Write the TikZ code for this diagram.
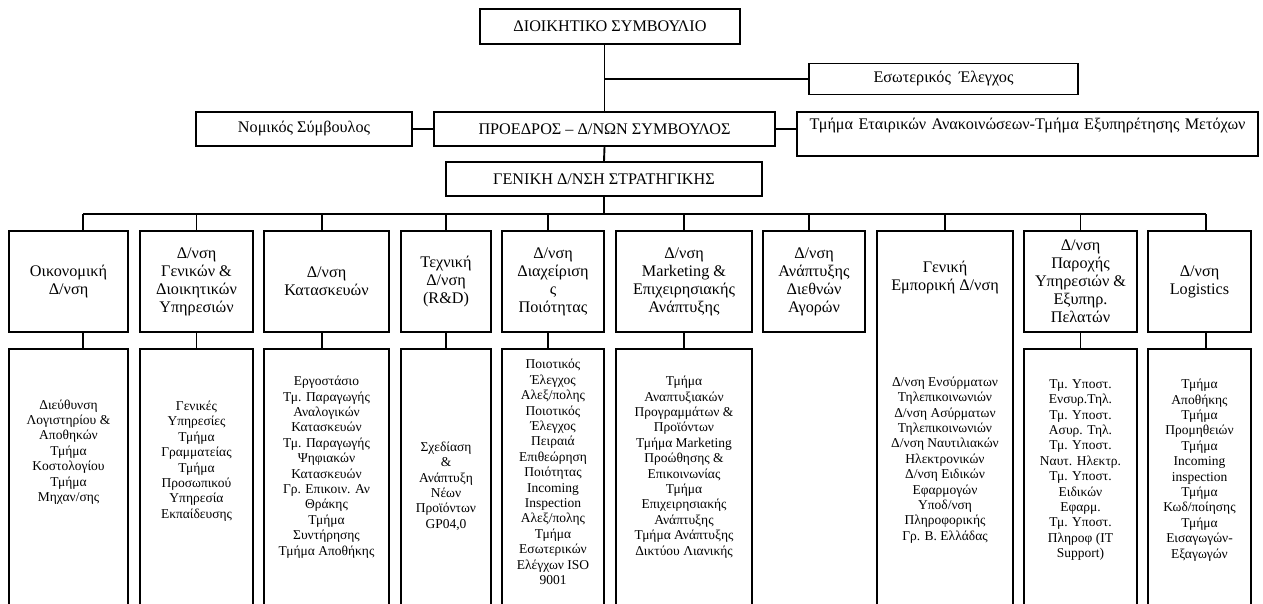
\documentclass[tikz,border=0pt]{standalone}
\usepackage{fontspec}
\setmainfont{Liberation Serif}
\usetikzlibrary{positioning,calc}

\begin{document}
\begin{tikzpicture}[x=1pt,y=-1pt,line width=1.9pt,
    unit/.style={draw,align=center,inner sep=0pt,font=\fontsize{16.2}{18}\selectfont},
    dept/.style={unit,minimum width=#1,minimum height=101pt},
    sect/.style={draw,minimum width=#1,minimum height=263pt,inner sep=0pt},
    secttxt/.style={align=center,inner sep=0pt,font=\fontsize{13.5}{15.4}\selectfont}]
    % page frame
    \useasboundingbox (0,0) rectangle (1263,603);
    \clip (0,0) rectangle (1263,603);
    % board, chairman and staff units
    \node[unit,minimum width=260pt,minimum height=35pt] (board) at (610,26.5) {ΔΙΟΙΚΗΤΙΚΟ ΣΥΜΒΟΥΛΙΟ};
    \node[unit,minimum width=269pt,minimum height=31pt] (audit) at (943.5,79) {Εσωτερικός \ Έλεγχος};
    \node[unit,minimum width=341pt,minimum height=34pt] (ceo) at (604.5,129) {ΠΡΟΕΔΡΟΣ – Δ/ΝΩΝ ΣΥΜΒΟΥΛΟΣ};
    \node[unit,minimum width=216pt,minimum height=34pt] (legal) at (304,129) {Νομικός Σύμβουλος};
    \node[unit,text width=461pt,text height=17pt,text depth=27pt] (corp) at (1027.5,134) {Τμήμα Εταιρικών Ανακοινώσεων-Τμήμα Εξυπηρέτησης Μετόχων};
    \node[unit,minimum width=316pt,minimum height=34pt] (gm) at (604,179) {ΓΕΝΙΚΗ Δ/ΝΣΗ ΣΤΡΑΤΗΓΙΚΗΣ};
    \draw (board.south -| ceo.north) -- (ceo.north);
    \draw (ceo.north |- audit.west) -- (audit.west);
    \draw (legal.east) -- (ceo.west);
    \draw (ceo.east) -- (ceo.east -| corp.west);
    \draw (ceo.south) -- (gm.north);
    % directorates
    \node[dept=119pt] (d1) at (68.5,281.5) {Οικονομική\\Δ/νση};
    \node[dept=113pt] (d2) at (196.5,281.5) {Δ/νση\\Γενικών \&\\Διοικητικών\\Υπηρεσιών};
    \node[dept=125pt] (d3) at (326.5,281.5) {Δ/νση\\Κατασκευών};
    \node[dept=90pt] (d4) at (446,281.5) {Τεχνική\\Δ/νση\\(R\&D)};
    \node[dept=102pt] (d5) at (553,281.5) {Δ/νση\\Διαχείριση\\ς\\Ποιότητας};
    \node[dept=136pt] (d6) at (684,281.5) {Δ/νση\\Marketing \&\\Επιχειρησιακής\\Ανάπτυξης};
    \node[dept=102pt] (d7) at (814,281.5) {Δ/νση\\Ανάπτυξης\\Διεθνών\\Αγορών};
    \node[draw,minimum width=136pt,minimum height=381pt] (d8) at (945,421.5) {};
    \node[unit,draw=none] (d8title) at (945,278) {Γενική\\Εμπορική Δ/νση};
    \node[dept=113pt] (d9) at (1080.5,281.5) {Δ/νση\\Παροχής\\Υπηρεσιών \&\\Εξυπηρ.\\Πελατών};
    \node[dept=103pt] (d10) at (1199.5,281.5) {Δ/νση\\Logistics};
    % bus from the general directorate
    \coordinate (bus) at ($(gm.south)+(0,17)$);
    \foreach \i/\dx in {1/14.5, 2/0, 3/-4.5, 4/0, 5/-5, 6/0, 7/-5, 8/0, 9/0, 10/6.5}{
      \coordinate (j\i) at ($(d\i.north)+(\dx,0)$);
      \draw (j\i) -- (j\i |- bus);
    }
    \draw (gm.south) -- (bus);
    \draw (j1 |- bus) -- (j10 |- bus);
    % departments below
    \foreach \i/\x/\w in {1/68.5/119, 2/196.5/113, 3/326.5/125, 4/446/90, 5/553/102, 6/684/136, 9/1080.5/113, 10/1199.5/103}{
      \node[sect=\w pt] (s\i) at (\x,480.5) {};
      \draw (j\i |- d\i.south) -- (j\i |- s\i.north);
    }
    \node[secttxt] (t1) at (68.5,452) {Διεύθυνση\\Λογιστηρίου \&\\Αποθηκών\\Τμήμα\\Κοστολογίου\\Τμήμα\\Μηχαν/σης};
    \node[secttxt] (t2) at (196.5,461) {Γενικές\\Υπηρεσίες\\Τμήμα\\Γραμματείας\\Τμήμα\\Προσωπικού\\Υπηρεσία\\Εκπαίδευσης};
    \node[secttxt] (t3) at (326.5,467) {Εργοστάσιο\\Τμ. Παραγωγής\\Αναλογικών\\Κατασκευών\\Τμ. Παραγωγής\\Ψηφιακών\\Κατασκευών\\Γρ. Επικοιν. Αν\\Θράκης\\Τμήμα\\Συντήρησης\\Τμήμα Αποθήκης};
    \node[secttxt] (t4) at (446,486) {Σχεδίαση\\\&\\Ανάπτυξη\\Νέων\\Προϊόντων\\GP04,0};
    \node[secttxt] (t5) at (553,472) {Ποιοτικός\\Έλεγχος\\Αλεξ/πολης\\Ποιοτικός\\Έλεγχος\\Πειραιά\\Επιθεώρηση\\Ποιότητας\\Incoming\\Inspection\\Αλεξ/πολης\\Τμήμα\\Εσωτερικών\\Ελέγχων ISO\\9001};
    \node[secttxt] (t6) at (684,467) {Τμήμα\\Αναπτυξιακών\\Προγραμμάτων \&\\Προϊόντων\\Τμήμα Marketing\\Προώθησης \&\\Επικοινωνίας\\Τμήμα\\Επιχειρησιακής\\Ανάπτυξης\\Τμήμα Ανάπτυξης\\Δικτύου Λιανικής};
    \node[secttxt] (t8) at (945,460) {Δ/νση Ενσύρματων\\Τηλεπικοινωνιών\\Δ/νση Ασύρματων\\Τηλεπικοινωνιών\\Δ/νση Ναυτιλιακών\\Ηλεκτρονικών\\Δ/νση Ειδικών\\Εφαρμογών\\Υποδ/νση\\Πληροφορικής\\Γρ. Β. Ελλάδας};
    \node[secttxt] (t9) at (1080.5,470) {Τμ. Υποστ.\\Ενσυρ.Τηλ.\\Τμ. Υποστ.\\Ασυρ. Τηλ.\\Τμ. Υποστ.\\Ναυτ. Ηλεκτρ.\\Τμ. Υποστ.\\Ειδικών\\Εφαρμ.\\Τμ. Υποστ.\\Πληροφ (IT\\Support)};
    \node[secttxt] (t10) at (1199.5,470) {Τμήμα\\Αποθήκης\\Τμήμα\\Προμηθειών\\Τμήμα\\Incoming\\inspection\\Τμήμα\\Κωδ/ποίησης\\Τμήμα\\Εισαγωγών-\\Εξαγωγών};
\end{tikzpicture}
\end{document}
